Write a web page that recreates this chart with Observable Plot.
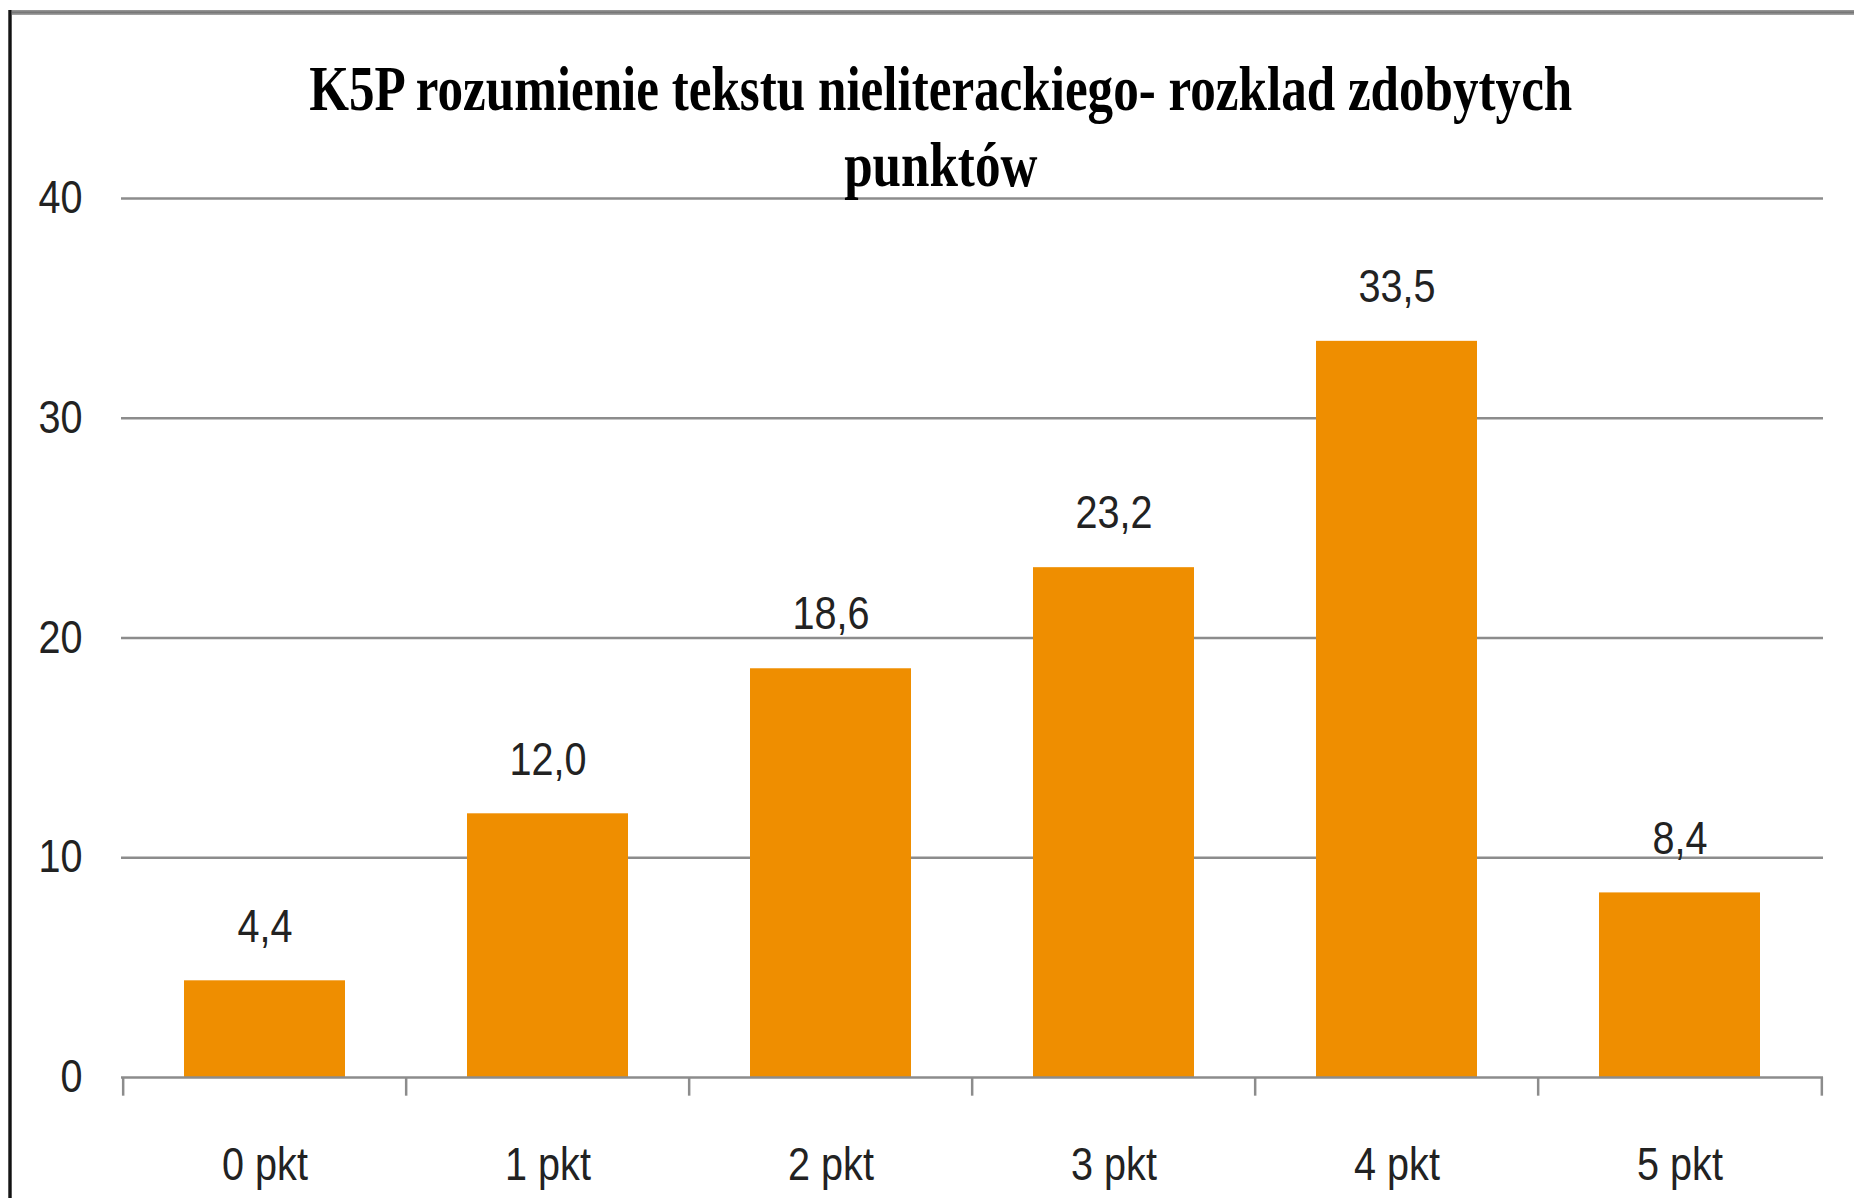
<!DOCTYPE html>
<html>
<head>
<meta charset="utf-8">
<script src="https://cdn.jsdelivr.net/npm/d3@7"></script>
<script src="https://cdn.jsdelivr.net/npm/@observablehq/plot@0.6"></script>
<style>
  html, body { margin: 0; padding: 0; background: #fff; width: 1854px; height: 1198px; overflow: hidden; }
  #page { position: relative; width: 1854px; height: 1198px; }
  #borderTop { position: absolute; left: 8px; top: 10px; width: 1846px; height: 5px; background: linear-gradient(to bottom, #999, #777 50%, #aaa); }
  #borderLeft { position: absolute; left: 8px; top: 10px; width: 4px; height: 1188px; background: linear-gradient(to right, #777, #111 40%, #111 70%, #888); }
  #title { position: absolute; top: 51px; left: 28px; width: 1826px; text-align: center; z-index: 2; }
  #titleInner { display: inline-block; font-family: "Liberation Serif", "Times New Roman", serif; font-weight: bold; font-size: 64px; line-height: 76px; color: #000; transform-origin: center top; white-space: nowrap; }
  #chart { position: absolute; top: 185px; left: 0; }
</style>
</head>
<body>
<div id="page">
  <div id="borderTop"></div>
  <div id="borderLeft"></div>
  <div id="title"><div id="titleInner"><span id="line1">K5P rozumienie tekstu nieliterackiego- rozklad zdobytych</span><br>punktów</div></div>
  <div id="chart"></div>
</div>
<script>
const categories = ["0 pkt", "1 pkt", "2 pkt", "3 pkt", "4 pkt", "5 pkt"];
const values = [4.4, 12.0, 18.6, 23.2, 33.5, 8.4];
const yTicks = [0, 10, 20, 30, 40];

const data = categories.map((c, i) => ({cat: c, value: values[i]}));
const fmt = v => v.toFixed(1).replace(".", ",");

const W = 1854, H = 1013, mL = 121, mR = 31, mT = 13, mB = 121;
const step = (W - mL - mR) / categories.length;
const gridColor = "#8c8c8c";
const font = "'Liberation Sans', Arial, sans-serif";
const fs = 46;

const chart = Plot.plot({
  width: W, height: H,
  marginLeft: mL, marginRight: mR, marginTop: mT, marginBottom: mB,
  style: {fontFamily: font, fontSize: fs + "px", color: "#222", background: "transparent", overflow: "visible"},
  x: {domain: categories, paddingInner: 0.43, paddingOuter: 0.215, axis: null},
  y: {domain: [0, 40], ticks: yTicks, tickSize: 0, tickPadding: 39, label: null, tickFormat: d => String(d)},
  marks: [
    Plot.ruleY(yTicks.filter(t => t > 0), {stroke: gridColor, strokeWidth: 2.5}),
    Plot.barY(data, {x: "cat", y: "value", fill: "#EF8E00"}),
    Plot.ruleY([0], {stroke: gridColor, strokeWidth: 2.5}),
    Plot.ruleX(categories, {x: d => d, y1: 0, y2: -0.85, dx: -step / 2, stroke: gridColor, strokeWidth: 2.5}),
    Plot.ruleX([categories[categories.length - 1]], {x: d => d, y1: 0, y2: -0.85, dx: step / 2, stroke: gridColor, strokeWidth: 2.5}),
    Plot.text(data, {x: "cat", y: "value", text: d => fmt(d.value), dy: -54, lineAnchor: "middle", fontSize: fs, fill: "#222"}),
    Plot.text(data, {x: "cat", y: () => 0, text: "cat", dy: 88, lineAnchor: "middle", fontSize: fs, fill: "#222"})
  ]
});
document.getElementById("chart").appendChild(chart);

// Condense labels horizontally (the original uses a narrow font)
chart.querySelectorAll("text").forEach(t => {
  const len = t.getComputedTextLength();
  if (len > 0) {
    t.setAttribute("textLength", (len * 0.86).toFixed(1));
    t.setAttribute("lengthAdjust", "spacingAndGlyphs");
  }
});

// Compress title horizontally to match the condensed look of the original
const inner = document.getElementById("titleInner");
const l1 = document.getElementById("line1");
const w = l1.getBoundingClientRect().width;
inner.style.transform = `scaleX(${1263 / w})`;
</script>
</body>
</html>
